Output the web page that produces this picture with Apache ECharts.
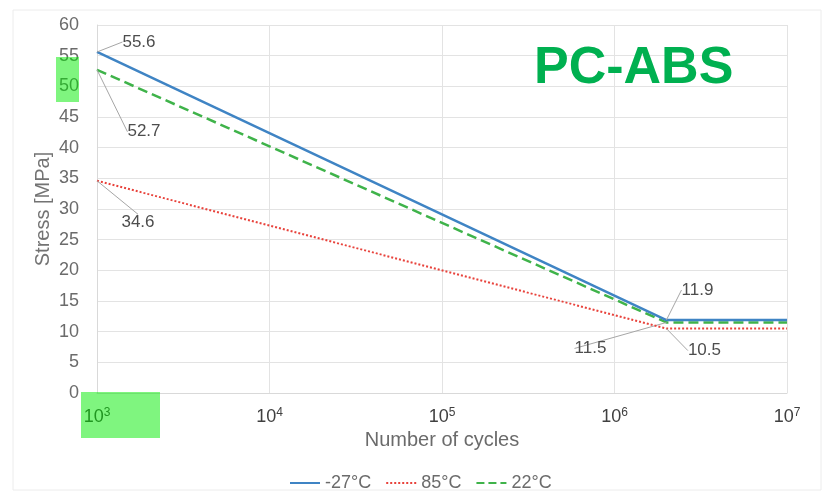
<!DOCTYPE html>
<html>
<head>
<meta charset="utf-8">
<script src="https://cdn.jsdelivr.net/npm/echarts@6/dist/echarts.min.js"></script>
<style>
  html, body { margin: 0; padding: 0; background: #ffffff; }
  #chart { width: 824px; height: 492px; }
</style>
</head>
<body>
<div id="chart"></div>
<script>
// S-N curves for PC-ABS at three temperatures
const cycles = [1e3, 2e6, 1e7];
const seriesNames = ['-27°C', '85°C', '22°C'];
const stressMinus27 = [55.6, 11.9, 11.9];
const stress85 = [34.6, 10.5, 10.5];
const stress22 = [52.7, 11.5, 11.5];
const yTicks = [0, 5, 10, 15, 20, 25, 30, 35, 40, 45, 50, 55, 60];

// label offsets (from the data point to the label centre), per series / point
const labelOffsets = [
  [[42, -10], [31, -30], null],
  [[41, 42], [38, 22], null],
  [[47, 62], [-76, 26], null]
];

const FONT = 'Liberation Sans, Arial, sans-serif';
const chart = echarts.init(document.getElementById('chart'));

function pairs(values) {
  return cycles.map((c, i) => ({
    value: [c, values[i]],
    label: { show: i < 2 },
    labelLine: { show: i < 2 }
  }));
}

const colors = ['#3f84c4', '#e8423b', '#3fb34a'];
const lineTypes = ['solid', 'dotted', 'dashed'];
const valueSets = [stressMinus27, stress85, stress22];

const series = valueSets.map((vals, s) => ({
  name: seriesNames[s],
  type: 'line',
  data: pairs(vals),
  symbol: 'circle',
  symbolSize: 0,
  showSymbol: true,
  itemStyle: { color: colors[s] },
  lineStyle: { color: colors[s], width: s === 1 ? 2 : 2.5, type: lineTypes[s] },
  label: {
    position: 'inside',
    color: '#4d4d4d',
    fontSize: 17,
    fontFamily: FONT,
    padding: [0, 3],
    formatter: p => p.value[1].toFixed(1)
  },
  labelLine: {
    lineStyle: { color: '#a6a6a6', width: 1 },
    length2: 6,
    smooth: 0.2
  },
  labelLayout: p => {
    const o = labelOffsets[s][p.dataIndex];
    return o ? { dx: o[0], dy: o[1] } : {};
  },
  emphasis: { disabled: true },
  z: 3 - s
}));

chart.setOption({
  animation: false,
  backgroundColor: '#ffffff',
  grid: { left: 97, right: 37, top: 25, bottom: 99 },
  legend: {
    data: seriesNames,
    left: 284,
    top: 469,
    itemWidth: 30,
    itemHeight: 14,
    itemGap: 14,
    itemStyle: { opacity: 0 },
    textStyle: { color: '#6b6b6b', fontSize: 18, fontFamily: FONT }
  },
  xAxis: {
    type: 'log',
    logBase: 10,
    min: 1e3,
    max: 1e7,
    name: 'Number of cycles',
    nameLocation: 'middle',
    nameGap: 36,
    nameTextStyle: { color: '#6b6b6b', fontSize: 20, fontFamily: FONT },
    axisLine: { show: true, lineStyle: { color: '#d9d9d9' } },
    axisTick: { show: false },
    axisLabel: {
      color: '#404040',
      margin: 14,
      fontFamily: FONT,
      formatter: v => '{a|10}{b|' + Math.round(Math.log10(v)) + '}',
      rich: {
        a: { fontSize: 18, lineHeight: 20, color: '#404040', fontFamily: FONT },
        b: { fontSize: 12, lineHeight: 12, verticalAlign: 'top', color: '#404040', fontFamily: FONT }
      }
    },
    splitLine: { show: true, lineStyle: { color: '#e3e3e3' } }
  },
  yAxis: {
    type: 'value',
    min: yTicks[0],
    max: yTicks[yTicks.length - 1],
    interval: 5,
    name: 'Stress [MPa]',
    nameLocation: 'middle',
    nameGap: 44,
    nameMoveOverlap: false,
    nameTextStyle: { color: '#737373', fontSize: 20, fontFamily: FONT },
    axisLine: { show: true, lineStyle: { color: '#d9d9d9' } },
    axisTick: { show: false },
    axisLabel: { color: '#6b6b6b', fontSize: 18, margin: 18, fontFamily: FONT },
    splitLine: { show: true, lineStyle: { color: '#e3e3e3' } }
  },
  title: {
    text: 'PC-ABS',
    left: 529,
    top: 38,
    textStyle: { color: '#00b050', fontSize: 52, fontWeight: 'bold', fontFamily: FONT }
  },
  graphic: [
    {
      type: 'rect',
      shape: { x: 13, y: 10, width: 808, height: 480 },
      style: { fill: 'none', stroke: '#ececec', lineWidth: 1 },
      silent: true
    },
    {
      type: 'rect',
      shape: { x: 56, y: 57, width: 23, height: 45 },
      style: { fill: 'rgba(0,235,0,0.5)' },
      z: 100,
      silent: true
    },
    {
      type: 'rect',
      shape: { x: 81, y: 392, width: 79, height: 46 },
      style: { fill: 'rgba(0,235,0,0.5)' },
      z: 100,
      silent: true
    }
  ],
  series: series
});
</script>
</body>
</html>
